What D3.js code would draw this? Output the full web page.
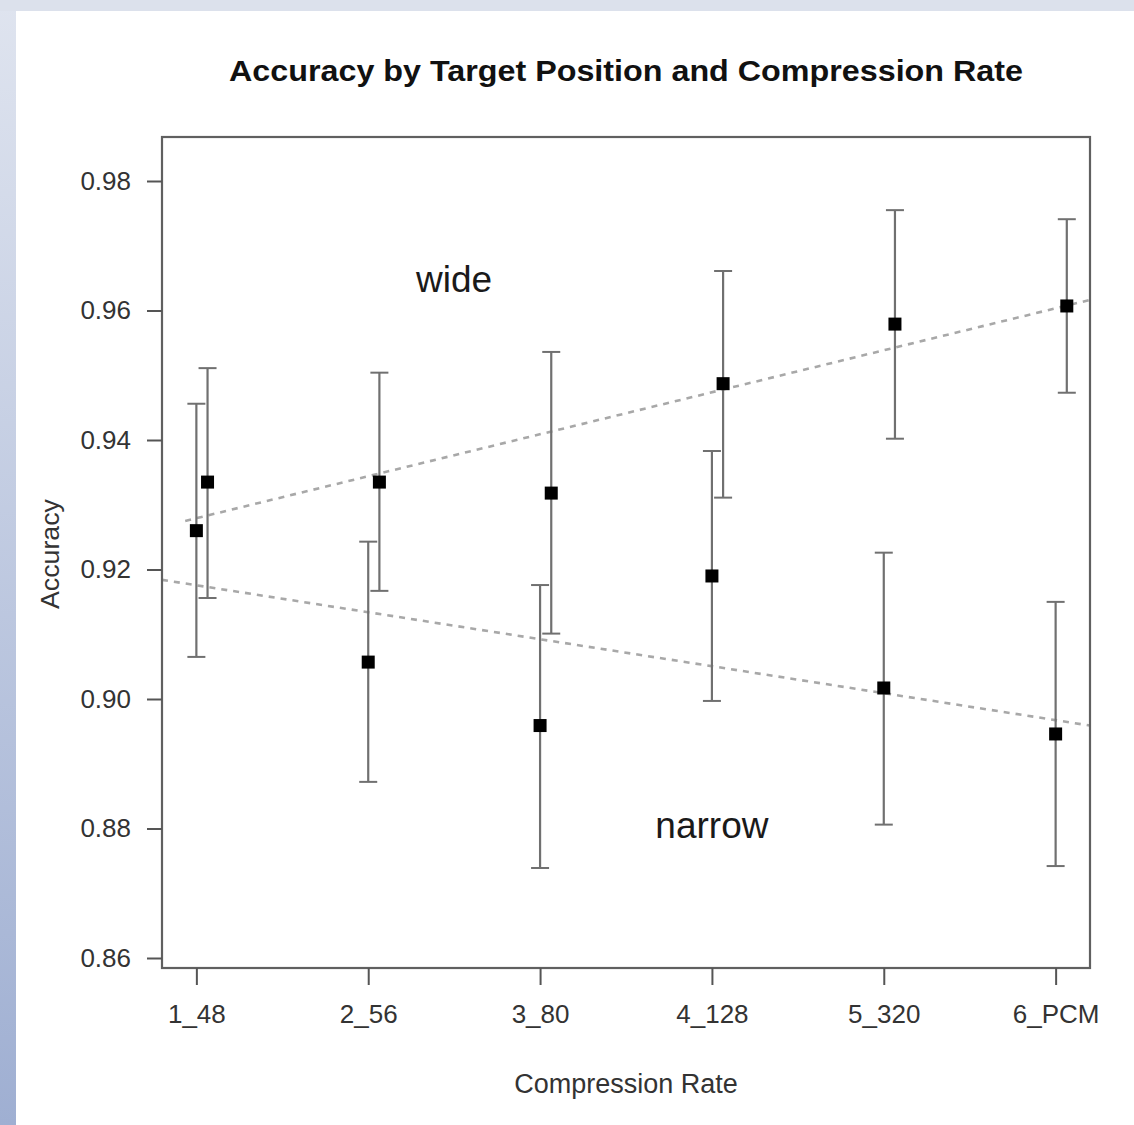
<!DOCTYPE html>
<html>
<head>
<meta charset="utf-8">
<script src="https://cdn.jsdelivr.net/npm/d3@7"></script>
<style>
  html, body { margin: 0; padding: 0; }
  body { width: 1134px; height: 1125px; overflow: hidden; }
  text { font-family: "Liberation Sans", Arial, Helvetica, sans-serif; }
</style>
</head>
<body>
<script>
// ---- data ----
const categories = ["1_48", "2_56", "3_80", "4_128", "5_320", "6_PCM"];
const narrowMean  = [0.9260, 0.9057, 0.8959, 0.9190, 0.9017, 0.8946];
const narrowUpper = [0.9456, 0.9243, 0.9176, 0.9383, 0.9226, 0.9150];
const narrowLower = [0.9065, 0.8872, 0.8739, 0.8997, 0.8806, 0.8742];
const wideMean    = [0.9335, 0.9335, 0.9318, 0.9487, 0.9579, 0.9607];
const wideUpper   = [0.9511, 0.9504, 0.9536, 0.9661, 0.9755, 0.9741];
const wideLower   = [0.9156, 0.9167, 0.9101, 0.9311, 0.9402, 0.9473];
const yTicks = [0.86, 0.88, 0.90, 0.92, 0.94, 0.96, 0.98];
// trend lines: [position, accuracy] endpoints
const narrowTrend = [[0.8, 0.9184], [6.2, 0.8959]];
const wideTrend   = [[0.935, 0.9275], [6.21, 0.9617]];
const seriesLabels = [
  {text: "wide",   pos: 2.5,  value: 0.9629},
  {text: "narrow", pos: 4.0,  value: 0.8785}
];

// ---- layout ----
const W = 1134, H = 1125;
const box = {left: 162, top: 137, right: 1090, bottom: 968};

const svg = d3.select("body").append("svg").attr("width", W).attr("height", H);

// background gradient frame
const defs = svg.append("defs");
const gl = defs.append("linearGradient").attr("id", "leftGrad").attr("x1", 0).attr("y1", 0).attr("x2", 0).attr("y2", 1);
gl.append("stop").attr("offset", "0%").attr("stop-color", "#dfe4ef");
gl.append("stop").attr("offset", "100%").attr("stop-color", "#9fafd2");
svg.append("rect").attr("x", 0).attr("y", 0).attr("width", W).attr("height", H).attr("fill", "url(#leftGrad)");
svg.append("rect").attr("x", 0).attr("y", 0).attr("width", W).attr("height", 11).attr("fill", "#dce1ec");
svg.append("rect").attr("x", 16).attr("y", 11).attr("width", W - 16).attr("height", H - 11).attr("fill", "#ffffff");

const x = d3.scaleLinear().domain([0.8, 6.2]).range([box.left, box.right]);
const y = d3.scaleLinear().domain([0.86, 0.98]).range([958, 181]);
const wideOffset = 0.065;

// clip for trend lines
defs.append("clipPath").attr("id", "plotClip").append("rect")
  .attr("x", box.left).attr("y", box.top).attr("width", box.right - box.left + 3).attr("height", box.bottom - box.top);

// title
svg.append("text").attr("x", 626).attr("y", 81).attr("text-anchor", "middle")
  .attr("font-size", 29).attr("font-weight", "bold").attr("fill", "#111")
  .attr("textLength", 794).attr("lengthAdjust", "spacingAndGlyphs")
  .text("Accuracy by Target Position and Compression Rate");

// trend lines
const line = d3.line().x(d => x(d[0])).y(d => y(d[1]));
const trendG = svg.append("g").attr("clip-path", "url(#plotClip)");
[narrowTrend, wideTrend].forEach(t => {
  trendG.append("path").attr("d", line(t)).attr("fill", "none")
    .attr("stroke", "#a8a8a8").attr("stroke-width", 2.6).attr("stroke-dasharray", "6,6");
});

// error bars and points
function drawSeries(mean, upper, lower, off) {
  const g = svg.append("g");
  categories.forEach((c, i) => {
    const px = x(i + 1 + off);
    g.append("line").attr("x1", px).attr("x2", px).attr("y1", y(upper[i])).attr("y2", y(lower[i]))
      .attr("stroke", "#707070").attr("stroke-width", 2.2);
    [upper[i], lower[i]].forEach(v => {
      g.append("line").attr("x1", px - 9).attr("x2", px + 9).attr("y1", y(v)).attr("y2", y(v))
        .attr("stroke", "#707070").attr("stroke-width", 2);
    });
    g.append("rect").attr("x", px - 6.5).attr("y", y(mean[i]) - 6.5).attr("width", 13).attr("height", 13)
      .attr("fill", "#000");
  });
}
drawSeries(narrowMean, narrowUpper, narrowLower, 0);
drawSeries(wideMean, wideUpper, wideLower, wideOffset);

// box
svg.append("rect").attr("x", box.left).attr("y", box.top)
  .attr("width", box.right - box.left).attr("height", box.bottom - box.top)
  .attr("fill", "none").attr("stroke", "#606060").attr("stroke-width", 2.2);

// y axis
const yAxis = d3.axisLeft(y).tickValues(yTicks).tickFormat(d3.format(".2f")).tickSize(15).tickPadding(16);
const yg = svg.append("g").attr("transform", `translate(${box.left},0)`).call(yAxis);
yg.select(".domain").remove();
yg.selectAll(".tick line").attr("stroke", "#555").attr("stroke-width", 2);
yg.selectAll(".tick text").attr("font-size", 26).attr("fill", "#333")
  .attr("font-family", "Liberation Sans, Arial, sans-serif");

// x axis
const xAxis = d3.axisBottom(x).tickValues(d3.range(1, 7)).tickFormat(d => categories[d - 1]).tickSize(17).tickPadding(20);
const xg = svg.append("g").attr("transform", `translate(0,${box.bottom})`).call(xAxis);
xg.select(".domain").remove();
xg.selectAll(".tick line").attr("stroke", "#555").attr("stroke-width", 2);
xg.selectAll(".tick text").attr("font-size", 26).attr("fill", "#333")
  .attr("font-family", "Liberation Sans, Arial, sans-serif");

// axis titles
svg.append("text").attr("x", 626).attr("y", 1093).attr("text-anchor", "middle")
  .attr("font-size", 27).attr("fill", "#333").text("Compression Rate");
svg.append("text").attr("transform", "translate(59,554) rotate(-90)").attr("text-anchor", "middle")
  .attr("font-size", 26).attr("fill", "#333").attr("textLength", 110).attr("lengthAdjust", "spacingAndGlyphs")
  .text("Accuracy");

// series labels
seriesLabels.forEach(l => {
  svg.append("text").attr("x", x(l.pos)).attr("y", y(l.value)).attr("text-anchor", "middle")
    .attr("font-size", 37).attr("fill", "#1a1a1a").text(l.text);
});
</script>
</body>
</html>
